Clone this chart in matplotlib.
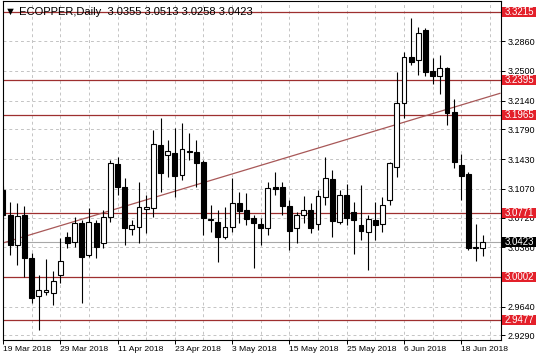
import matplotlib
matplotlib.use("Agg")
import matplotlib.pyplot as plt
import matplotlib.transforms as mtransforms
from matplotlib.patches import Rectangle

# ---------------- data ----------------
opens = [3.1055, 3.0751, 3.0387, 3.0751, 3.0226, 2.9772, 2.9820, 2.9801, 3.0023, 3.0488,
         3.0427, 3.0651, 3.0266, 3.0651, 3.0408, 3.0731, 3.1367, 3.1095, 3.0581, 3.0609,
         3.0821, 3.0833, 3.1601, 3.1480, 3.1500, 3.1237, 3.1528, 3.1520, 3.1398, 3.0691,
         3.0670, 3.0488, 3.0602, 3.0901, 3.0812, 3.0711, 3.0642, 3.0590, 3.1095, 3.1087,
         3.0864, 3.0590, 3.0751, 3.0812, 3.0642, 3.0974, 3.1188, 3.0667, 3.1000, 3.0788,
         3.0626, 3.0545, 3.0687, 3.0646, 3.0933, 3.1338, 3.2107, 3.2665, 3.2632, 3.2997,
         3.2503, 3.2438, 3.2532, 3.2005, 3.1358, 3.1249, 3.0350, 3.0355]
highs = [3.1100, 3.0913, 3.0901, 3.0861, 3.0287, 3.0023, 3.0214, 3.0072, 3.0469, 3.0548,
         3.0731, 3.0691, 3.0833, 3.0691, 3.0812, 3.1419, 3.1459, 3.1197, 3.0691, 3.1156,
         3.0994, 3.1783, 3.1925, 3.1662, 3.1804, 3.1864, 3.1743, 3.1662, 3.1419, 3.0870,
         3.0812, 3.0852, 3.1197, 3.1034, 3.1014, 3.0751, 3.0711, 3.1156, 3.1277, 3.1156,
         3.0933, 3.0792, 3.0982, 3.0893, 3.1055, 3.1459, 3.1298, 3.1051, 3.1124, 3.0909,
         3.1112, 3.0748, 3.0909, 3.0970, 3.1398, 3.2491, 3.2733, 3.3139, 3.3029, 3.3017,
         3.2653, 3.2693, 3.2551, 3.2159, 3.1492, 3.1277, 3.0642, 3.0513]
lows = [3.0570, 3.0266, 3.0145, 3.0002, 2.9680, 2.9356, 2.9780, 2.9659, 2.9923, 3.0347,
        3.0367, 2.9680, 3.0245, 3.0226, 3.0347, 3.0670, 3.0994, 3.0387, 3.0509, 3.0408,
        3.0530, 3.0731, 3.1034, 3.1216, 3.0974, 3.1176, 3.1419, 3.1095, 3.0509, 3.0549,
        3.0185, 3.0456, 3.0549, 3.0651, 3.0630, 3.0104, 3.0387, 3.0509, 3.0994, 3.0751,
        3.0327, 3.0415, 3.0658, 3.0537, 3.0569, 3.0873, 3.0481, 3.0646, 3.0636, 3.0282,
        3.0444, 3.0080, 3.0444, 3.0545, 3.0873, 3.1216, 3.1925, 3.2572, 3.2450, 3.2438,
        3.2341, 3.2220, 3.1844, 3.1318, 3.0933, 3.0327, 3.0196, 3.0258]
closes = [3.0751, 3.0387, 3.0739, 3.0226, 2.9740, 2.9841, 2.9835, 2.9954, 3.0197, 3.0408,
          3.0651, 3.0245, 3.0663, 3.0367, 3.0731, 3.1379, 3.1095, 3.0590, 3.0630, 3.0852,
          3.0852, 3.1609, 3.1257, 3.1528, 3.1228, 3.1549, 3.1510, 3.1379, 3.0711, 3.0695,
          3.0488, 3.0602, 3.0901, 3.0804, 3.0699, 3.0651, 3.0597, 3.1083, 3.1067, 3.0864,
          3.0561, 3.0751, 3.0812, 3.0597, 3.0986, 3.1204, 3.0682, 3.0991, 3.0709, 3.0687,
          3.0557, 3.0707, 3.0626, 3.0869, 3.1379, 3.2114, 3.2665, 3.2612, 3.2956, 3.2491,
          3.2438, 3.2539, 3.1986, 3.1398, 3.1225, 3.0347, 3.0360, 3.0423]

date_labels = ['19 Mar 2018', '29 Mar 2018', '11 Apr 2018', '23 Apr 2018', '3 May 2018',
               '15 May 2018', '25 May 2018', '6 Jun 2018', '18 Jun 2018']
label_every = 8

price_ticks = [2.9290, 2.9640, 3.0000, 3.0360, 3.0720, 3.1070, 3.1430, 3.1790, 3.2140, 3.2500, 3.2860]
price_labels = ['2.9290', '2.9640', '', '3.0360', '3.0720', '3.1070', '3.1430', '3.1790',
                '3.2140', '3.2500', '3.2860']
levels = [3.3215, 3.2395, 3.1965, 3.0771, 3.0002, 2.9477]
bid = 3.0423
trend_bars = [0.0, 69.4]
trend_prices = [3.0412, 3.2228]
title = "\u25bc ECOPPER,Daily  3.0355 3.0513 3.0258 3.0423"

# ---------------- figure ----------------
W, H = 536, 357
fig = plt.figure(figsize=(W / 100, H / 100), dpi=100)
ax = fig.add_axes([2.5 / W, 17 / H, (501 - 2.5) / W, (340 - 1) / H])
FONT = ['Liberation Sans', 'DejaVu Sans']
FS = 6.5

n = len(opens)
xs = list(range(n))

# grid
ax.set_axisbelow(True)
ax.set_xticks([i * label_every for i in range(len(date_labels))])
ax.set_xticks([i * label_every + label_every / 2 for i in range(len(date_labels))], minor=True)
ax.set_xticklabels(date_labels, ha='left', fontsize=6.1, family=FONT)
ax.grid(True, which='both', color='#c4c4c4', linestyle=(0, (3, 3)), linewidth=0.7)
ax.set_yticks(price_ticks)
ax.set_yticklabels(price_labels, fontsize=FS, family=FONT)
ax.yaxis.tick_right()
ax.tick_params(axis='both', which='major', length=3, width=0.7, color='black', pad=1.5)
ax.tick_params(axis='x', which='minor', length=0)
ax.tick_params(axis='y', pad=2)

# levels
for lv in levels:
    ax.axhline(lv, color='#9e2f2f', linewidth=0.9, zorder=1.5)
ax.axhline(bid, color='#a8a8a8', linewidth=0.8, zorder=1.5)

# trendline
ax.plot(trend_bars, trend_prices, color='#a85858', linewidth=0.9, zorder=1.6)

# candles
bw = 0.68
for i in xs:
    o, h, l, c = opens[i], highs[i], lows[i], closes[i]
    ax.vlines(i, l, h, color='black', linewidth=0.8, zorder=3)
    bottom = min(o, c)
    height = max(abs(c - o), 0.0006)
    fc = 'white' if c >= o else 'black'
    ax.add_patch(Rectangle((i - bw / 2, bottom), bw, height, facecolor=fc,
                           edgecolor='black', linewidth=0.8, zorder=4))

ax.set_xlim(-0.07, 69.55)
ax.set_ylim(2.9234, 3.3349)

for sp in ax.spines.values():
    sp.set_color('black')
    sp.set_linewidth(0.8)

# level boxes on the right axis
trans = mtransforms.blended_transform_factory(ax.transAxes, ax.transData)
box_w = 34 / 498.5
box_h = 10 * 0.0012136
for lv, col in [(v, '#e3202a') for v in levels] + [(bid, 'black')]:
    ax.add_patch(Rectangle((1.003, lv - box_h / 2), box_w, box_h, transform=trans,
                           facecolor=col, edgecolor='none', clip_on=False, zorder=10))
    ax.text(1.003 + box_w / 2, lv, f"{lv:.4f}", transform=trans, ha='center', va='center',
            color='white', fontsize=FS + 0.5, family=FONT, clip_on=False, zorder=11)

# title
fig.text(5 / W, 1 - 12 / H, title, ha='left', va='center', fontsize=8,
         family=FONT, color='black', zorder=12)

fig.savefig('out.png', dpi=100)
